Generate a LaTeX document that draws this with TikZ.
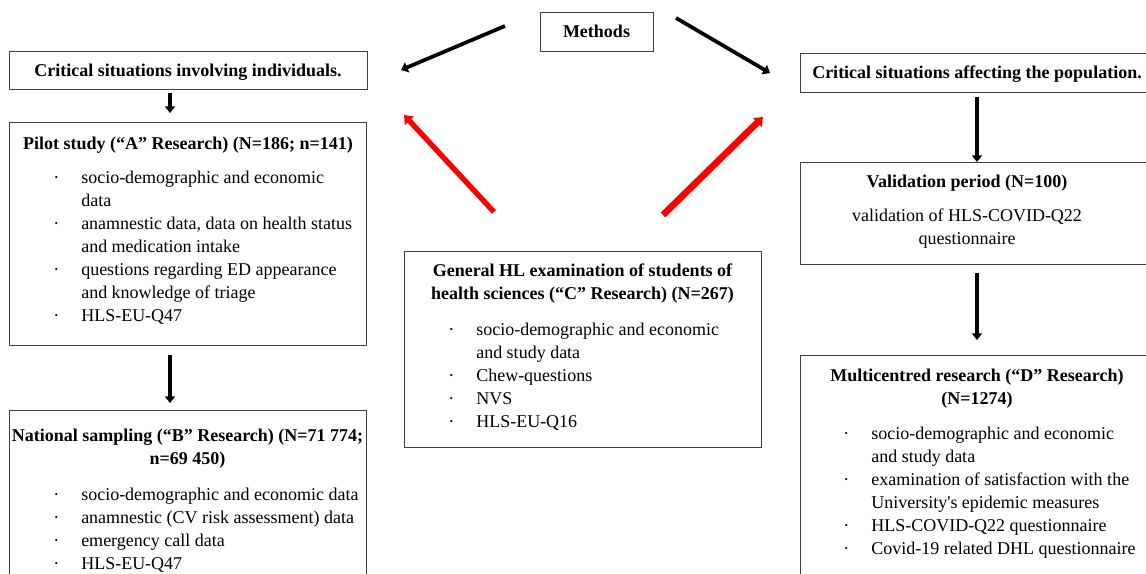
\documentclass[tikz,border=0pt]{standalone}
\usepackage{fontspec}
\setmainfont{Liberation Serif}
\usetikzlibrary{arrows.meta,fit}
\newcommand\bl{\textperiodcentered}
\begin{document}
\begin{tikzpicture}[x=0.75pt,y=-0.75pt,
 box/.style={draw=black!75,line width=0.75pt,inner sep=0pt},
 txt/.style={inner sep=0pt,font=\fontsize{13.5}{17.25}\selectfont},
 ttl/.style={inner sep=0pt,font=\fontsize{13.5}{17.25}\selectfont\bfseries},
 blkarr/.style={line width=2.8pt,-{Triangle[length=5pt,width=8pt]}},
 vertarr/.style={line width=3pt,-{Triangle[length=5pt,width=7.5pt]}},
 redarr/.style={draw=red,line width=4pt,-{Triangle[length=6pt,width=9pt]}}]
\useasboundingbox (0,0) rectangle (1146,574);
\fill[white] (0,0) rectangle (1146,574);
% boxes
\node[box,fit={(9,52) (367,90)}] (critA) {};
\node[box,fit={(9,123) (366,345)}] (pilot) {};
\node[box,fit={(9,410) (366,600)}] (natl) {};
\node[box,fit={(540,13) (653,52)}] (meth) {};
\node[box,fit={(404,251) (761,447)}] (genC) {};
\node[box,fit={(800,54) (1160,93)}] (critB) {};
\node[box,fit={(800,163) (1160,264)}] (valid) {};
\node[box,fit={(800,355) (1160,600)}] (multi) {};
% texts
\node[ttl,anchor=base] (tCritA) at (188,77) {Critical situations involving individuals.};
\node[ttl,anchor=base] (tPilot) at (188,150) {Pilot study (“A” Research) (N=186; n=141)};
\node[txt,anchor=base west] (lPilot) at (53,184) {\begin{tabular}[t]{@{}p{21pt}@{}l@{}}
\bl & socio-demographic and economic\\
 & data\\
\bl & anamnestic data, data on health status\\
 & and medication intake\\
\bl & questions regarding ED appearance\\
 & and knowledge of triage\\
\bl & HLS-EU-Q47\end{tabular}};
\node[ttl,anchor=base] (tNatl) at (187.5,441) {\begin{tabular}[t]{@{}c@{}}National sampling (“B” Research) (N=71 774;\\ n=69 450)\end{tabular}};
\node[txt,anchor=base west] (lNatl) at (53,500) {\begin{tabular}[t]{@{}p{21pt}@{}l@{}}
\bl & socio-demographic and economic data\\
\bl & anamnestic (CV risk assessment) data\\
\bl & emergency call data\\
\bl & HLS-EU-Q47\end{tabular}};
\node[ttl,anchor=base] (tMeth) at (596.5,38) {Methods};
\node[ttl,anchor=base] (tGenC) at (582.5,276) {\begin{tabular}[t]{@{}c@{}}General HL examination of students of\\ health sciences (“C” Research) (N=267)\end{tabular}};
\node[txt,anchor=base west] (lGenC) at (448,335) {\begin{tabular}[t]{@{}p{21pt}@{}l@{}}
\bl & socio-demographic and economic\\
 & and study data\\
\bl & Chew-questions\\
\bl & NVS\\
\bl & HLS-EU-Q16\end{tabular}};
\node[ttl,anchor=base] (tCritB) at (977,79) {Critical situations affecting the population.};
\node[ttl,anchor=base] (tValid) at (967,188) {Validation period (N=100)};
\node[txt,anchor=base] (lValid) at (967,221) {\begin{tabular}[t]{@{}c@{}}validation of HLS-COVID-Q22\\ questionnaire\end{tabular}};
\node[ttl,anchor=base] (tMulti) at (977,381) {\begin{tabular}[t]{@{}c@{}}Multicentred research (“D” Research)\\ (N=1274)\end{tabular}};
\node[txt,anchor=base west] (lMulti) at (843,439) {\begin{tabular}[t]{@{}p{21pt}@{}l@{}}
\bl & socio-demographic and economic\\
 & and study data\\
\bl & examination of satisfaction with the\\
 & University\textquotesingle s epidemic measures\\
\bl & HLS-COVID-Q22 questionnaire\\
\bl & Covid-19 related DHL questionnaire\end{tabular}};
% arrow end points
\coordinate (mL0) at (505,26); \coordinate (mL1) at (401,70);
\coordinate (mR0) at (676,18); \coordinate (mR1) at (770,73);
\coordinate (vA0) at (170,93); \coordinate (vA1) at (170,113);
\coordinate (vB0) at (170,355); \coordinate (vB1) at (170,403);
\coordinate (vC0) at (977,97); \coordinate (vC1) at (977,162);
\coordinate (vD0) at (977,273); \coordinate (vD1) at (977,340);
\coordinate (rL0) at (494,212); \coordinate (rL1) at (404,115);
\coordinate (rR0) at (663,215); \coordinate (rR1) at (763,117);
\draw[blkarr] (mL0) -- (mL1);
\draw[blkarr] (mR0) -- (mR1);
\draw[vertarr] (vA0) -- (vA1);
\draw[vertarr] (vB0) -- (vB1);
\draw[vertarr] (vC0) -- (vC1);
\draw[vertarr] (vD0) -- (vD1);
\draw[redarr] (rL0) -- (rL1);
\draw[redarr,line width=5pt] (rR0) -- (rR1);
\end{tikzpicture}
\end{document}
